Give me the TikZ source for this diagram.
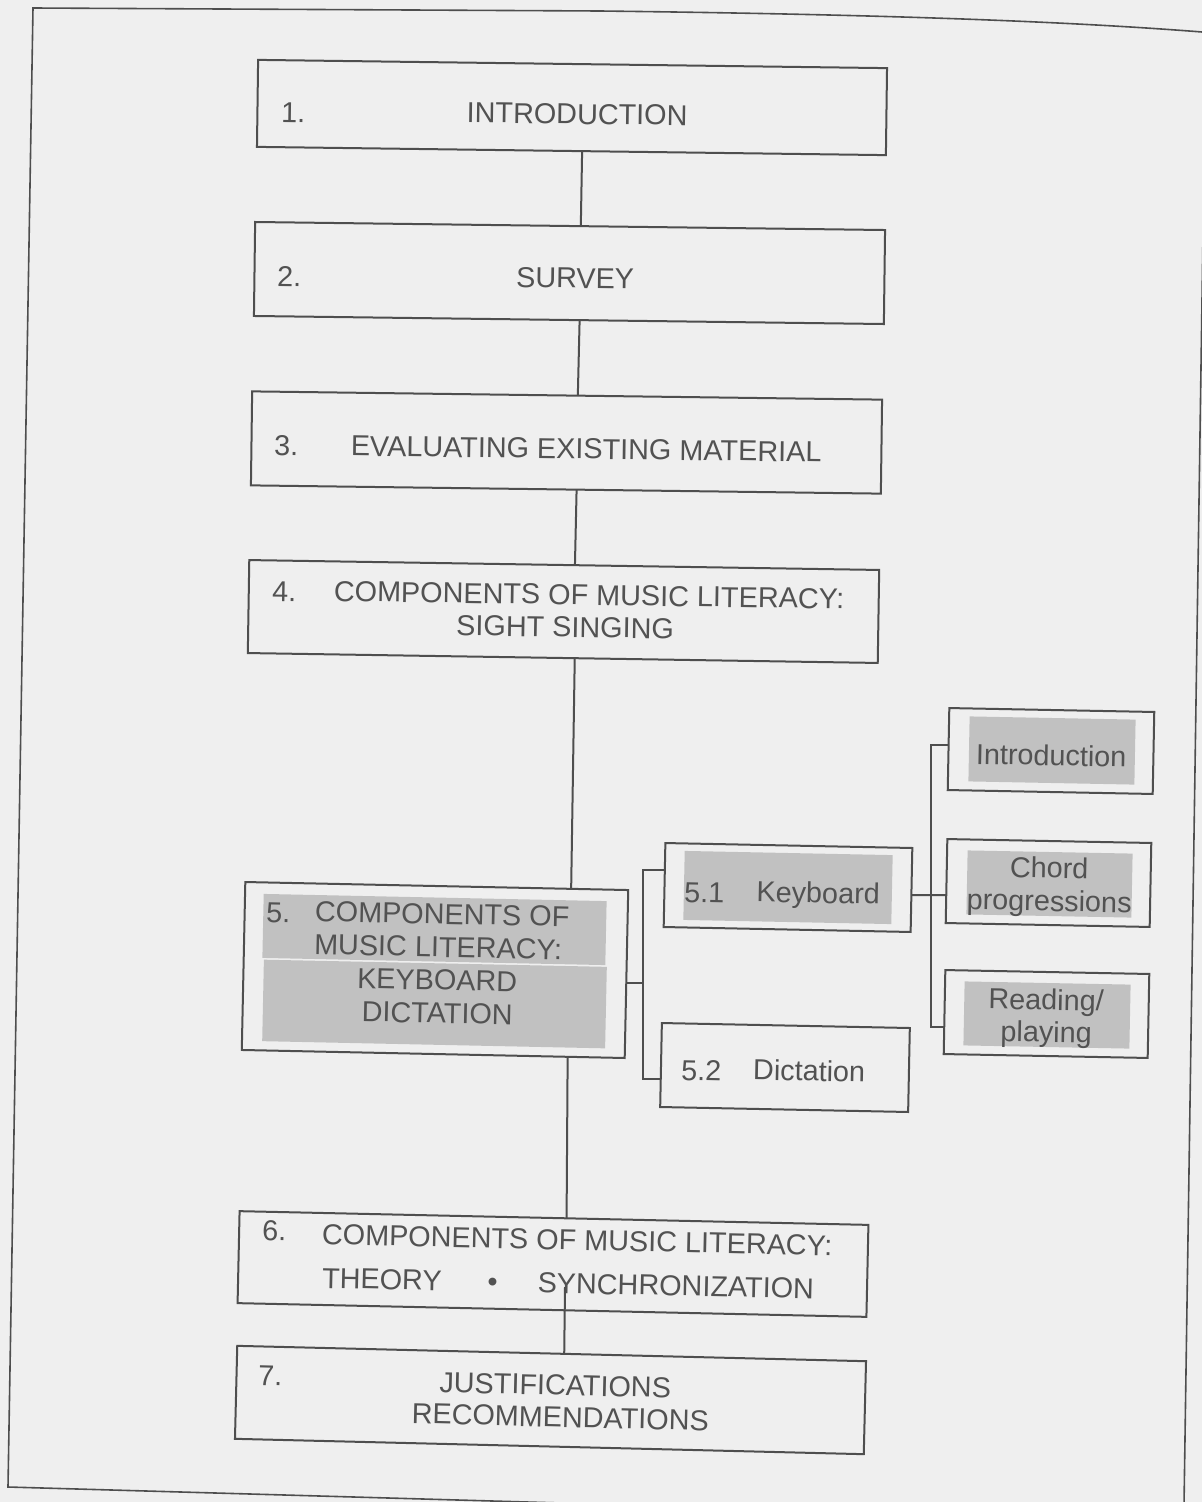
\documentclass[tikz,border=0pt]{standalone}
\usepackage{fontspec}
\setmainfont{Liberation Sans}
\usetikzlibrary{calc}
\definecolor{pagebg}{RGB}{239,239,239}
\definecolor{ink}{RGB}{78,78,78}
\definecolor{txtc}{RGB}{82,82,82}
\definecolor{hlc}{RGB}{193,193,193}
\tikzset{
  box/.style={draw=ink,line width=2pt,rectangle,inner sep=0pt,outer sep=0pt},
  lbl/.style={text=txtc,font=\fontsize{28.8pt}{33pt}\selectfont,inner sep=0pt,outer sep=0pt,anchor=base},
  num/.style={lbl,anchor=base west},
  hl/.style={fill=hlc,rectangle,inner sep=0pt,outer sep=0pt},
  conn/.style={draw=ink,line width=2pt},
  pageedge/.style={draw=ink,line width=1.6pt},
}
\begin{document}
\begin{tikzpicture}[x=1pt,y=-1pt]
\useasboundingbox (0,0) rectangle (1202,1502);
\clip (0,0) rectangle (1202,1502);
\fill[pagebg] (0,0) rectangle (1202,1502);
% scanned page edge
\draw[pageedge] (1202,32) .. controls (1050,20) and (850,14) .. (600,11) -- (33,8) -- (8,1487) -- (700,1507);
\draw[pageedge] (1206,32) -- (1184,1505);
% highlights
\node[hl,minimum width=343pt,minimum height=64pt,rotate=-1.2] (h5a) at (434.5,929.5) {};
\node[hl,minimum width=343pt,minimum height=81.5pt,rotate=-1.2] (h5b) at (434.5,1004) {};
\node[hl,minimum width=208pt,minimum height=69pt,rotate=-1.15] (h51) at (788,887.5) {};
\node[hl,minimum width=166pt,minimum height=65pt,rotate=-1.1] (hi) at (1052,750.5) {};
\node[hl,minimum width=165pt,minimum height=64pt,rotate=-1.1] (hc) at (1049.5,884) {};
\node[hl,minimum width=166pt,minimum height=64pt,rotate=-1.1] (hr) at (1047,1015) {};
% boxes
\node[box,minimum width=629pt,minimum height=87pt,rotate=-0.75] (b1) at (572,107.5) {};
\node[box,minimum width=630pt,minimum height=94pt,rotate=-0.73] (b2) at (569.5,273) {};
\node[box,minimum width=630pt,minimum height=94pt,rotate=-0.75] (b3) at (566.5,442.5) {};
\node[box,minimum width=630pt,minimum height=93pt,rotate=-0.9] (b4) at (563.5,611.5) {};
\node[box,minimum width=383pt,minimum height=168pt,rotate=-1.2] (b5) at (435,970) {};
\node[box,minimum width=247pt,minimum height=84pt,rotate=-1.15] (b51) at (788,887.5) {};
\node[box,minimum width=248pt,minimum height=84pt,rotate=-1.15] (b52) at (785,1067.5) {};
\node[box,minimum width=205pt,minimum height=82pt,rotate=-1.1] (bi) at (1051,751) {};
\node[box,minimum width=204pt,minimum height=84pt,rotate=-1.1] (bc) at (1048.5,883) {};
\node[box,minimum width=204pt,minimum height=84pt,rotate=-1.1] (br) at (1046.5,1014) {};
\node[box,minimum width=629pt,minimum height=92pt,rotate=-1.25] (b6) at (553,1264) {};
\node[box,minimum width=629pt,minimum height=93pt,rotate=-1.4] (b7) at (550.5,1400) {};
% texts
\node[num,rotate=-0.75] (n1) at (281,122) {1.};
\node[lbl,rotate=-0.75] (t1) at (577,124) {INTRODUCTION};
\node[num,rotate=-0.73] (n2) at (277,286) {2.};
\node[lbl,rotate=-0.73] (t2) at (575,288) {SURVEY};
\node[num,rotate=-0.75] (n3) at (274,455) {3.};
\node[lbl,rotate=-0.75] (t3) at (586,459) {EVALUATING EXISTING MATERIAL};
\node[num,rotate=-0.9] (n4) at (272,601) {4.};
\node[lbl,rotate=-0.9] (t4a) at (589,605) {COMPONENTS OF MUSIC LITERACY:};
\node[lbl,rotate=-0.9] (t4b) at (565,637) {SIGHT SINGING};
\node[num,rotate=-1.2] (n5) at (266,922) {5.};
\node[lbl,rotate=-1.2] (t5a) at (442,924) {COMPONENTS OF};
\node[lbl,rotate=-1.2] (t5b) at (438,957) {MUSIC LITERACY:};
\node[lbl,rotate=-1.2] (t5c) at (437,990) {KEYBOARD};
\node[lbl,rotate=-1.2] (t5d) at (437,1023) {DICTATION};
\node[num,rotate=-1.15] (n51) at (684,902) {5.1};
\node[lbl,rotate=-1.15] (t51) at (818,903) {Keyboard};
\node[num,rotate=-1.15] (n52) at (681,1080) {5.2};
\node[lbl,rotate=-1.15] (t52) at (809,1081) {Dictation};
\node[lbl,rotate=-1.1] (ti) at (1051,765.5) {Introduction};
\node[lbl,rotate=-1.1] (tc1) at (1049,878) {Chord};
\node[lbl,rotate=-1.1] (tc2) at (1049,911) {progressions};
\node[lbl,rotate=-1.1] (tr1) at (1046,1010) {Reading/};
\node[lbl,rotate=-1.1] (tr2) at (1046,1042) {playing};
\node[num,rotate=-1.25] (n6) at (262,1240) {6.};
\node[lbl,rotate=-1.25] (t6a) at (577,1250) {COMPONENTS OF MUSIC LITERACY:};
\node[num,rotate=-1.25] (t6b) at (322,1288) {THEORY\hspace{46pt}•\hspace{40pt}SYNCHRONIZATION};
\node[num,rotate=-1.4] (n7) at (258,1385) {7.};
\node[lbl,rotate=-1.4] (t7a) at (555,1395) {JUSTIFICATIONS};
\node[lbl,rotate=-1.4] (t7b) at (560,1427) {RECOMMENDATIONS};
% connectors, main chain
\draw[conn] ($(b1.south west)!0.517!(b1.south east)$) -- ($(b2.north west)!0.517!(b2.north east)$);
\draw[conn] ($(b2.south west)!0.517!(b2.south east)$) -- ($(b3.north west)!0.517!(b3.north east)$);
\draw[conn] ($(b3.south west)!0.517!(b3.south east)$) -- ($(b4.north west)!0.517!(b4.north east)$);
\draw[conn] ($(b4.south west)!0.519!(b4.south east)$) -- ($(b5.north west)!0.851!(b5.north east)$);
\draw[conn] ($(b5.south west)!0.851!(b5.south east)$) -- ($(b6.north west)!0.52!(b6.north east)$);
\coordinate (y6) at (565,1287);
\draw[conn] (y6) -- ($(b7.north west)!0.52!(b7.north east)$);
% branches of 5
\coordinate (bus1) at (643,980);
\coordinate (p5) at ($(b5.north east)!0.553!(b5.south east)$);
\coordinate (p51) at ($(b51.north west)!0.32!(b51.south west)$);
\coordinate (p52) at ($(b52.north west)!0.667!(b52.south west)$);
\draw[conn] (p5) -- (p5 -| bus1);
\draw[conn] (p51) -- (p51 -| bus1) -- (p52 -| bus1) -- (p52);
% branches of 5.1
\coordinate (bus2) at (931,895);
\coordinate (q51) at ($(b51.north east)!0.56!(b51.south east)$);
\coordinate (pi) at ($(bi.north west)!0.45!(bi.south west)$);
\coordinate (pc) at ($(bc.north west)!0.667!(bc.south west)$);
\coordinate (pr) at ($(br.north west)!0.68!(br.south west)$);
\draw[conn] (q51) -- (pc);
\draw[conn] (pi) -- (pi -| bus2) -- (pr -| bus2) -- (pr);
\end{tikzpicture}
\end{document}
